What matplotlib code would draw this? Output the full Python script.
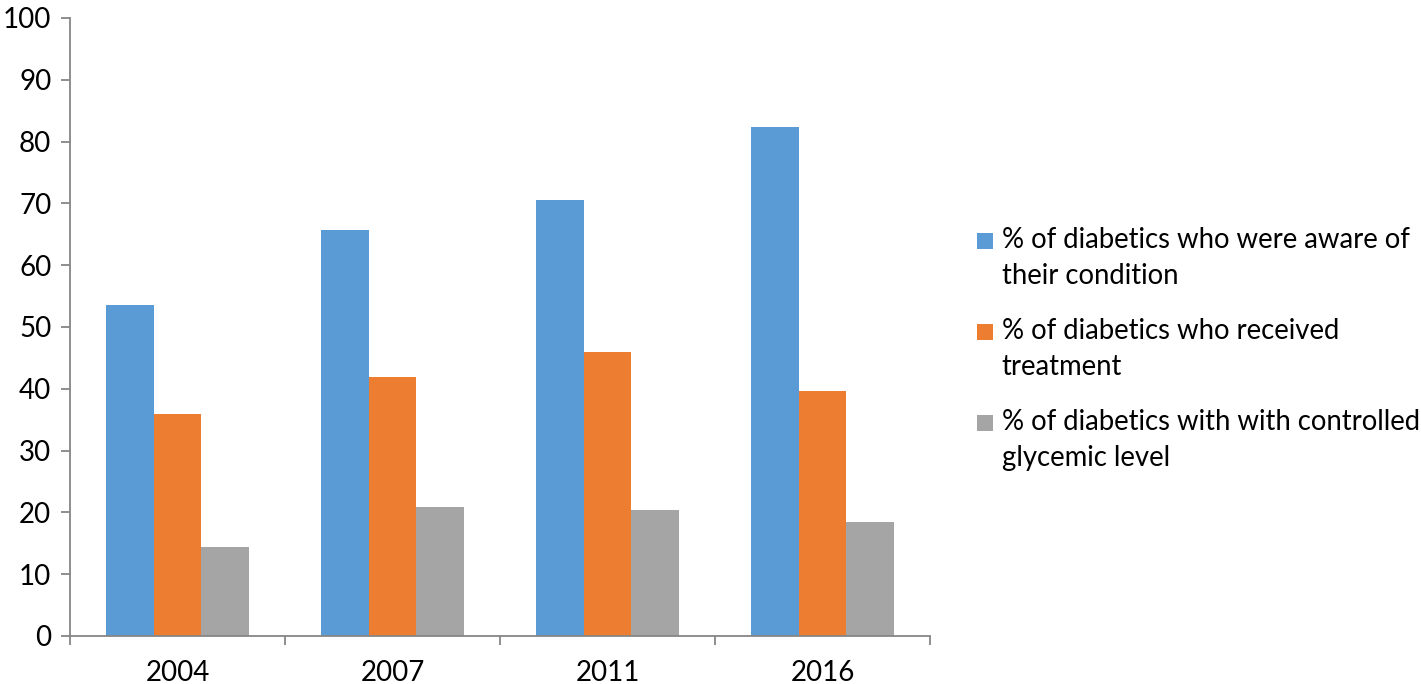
import matplotlib.pyplot as plt
import numpy as np
from matplotlib.legend_handler import HandlerPatch
from matplotlib.patches import Rectangle

plt.rcParams['font.family'] = ['Lato', 'DejaVu Sans']

years = ['2004', '2007', '2011', '2016']
aware = [53.6, 65.7, 70.6, 82.3]
treated = [35.9, 41.9, 46.0, 39.6]
controlled = [14.4, 20.8, 20.4, 18.4]
labels = ['% of diabetics who were aware of\ntheir condition',
          '% of diabetics who received\ntreatment',
          '% of diabetics with with controlled\nglycemic level']
colors = ['#5B9BD5', '#ED7D31', '#A5A5A5']
axis_col = '#868686'

fig = plt.figure(figsize=(14.21, 6.84), dpi=100)
ax = fig.add_axes([0.0493, 0.0702, 0.6052, 0.9035])

x = np.arange(len(years))
w = 0.222
bars = []
for i, (vals, c, lab) in enumerate(zip([aware, treated, controlled], colors, labels)):
    b = ax.bar(x + (i - 1) * w, vals, w, color=c, label=lab)
    bars.append(b)

ax.set_xlim(-0.5, len(years) - 0.5)
ax.set_ylim(0, 100)
ax.set_yticks(range(0, 101, 10))
ax.set_xticks(x)
ax.set_xticklabels(years)
ax.set_xticks(np.arange(-0.5, len(years)), minor=True)

for s in ['top', 'right']:
    ax.spines[s].set_visible(False)
for s in ['left', 'bottom']:
    ax.spines[s].set_color(axis_col)
    ax.spines[s].set_linewidth(1.3)

ax.tick_params(axis='y', length=6.5, width=1.3, color=axis_col, labelsize=20, pad=7)
ax.tick_params(axis='x', which='major', length=0, labelsize=20, pad=17)
ax.tick_params(axis='x', which='minor', length=6.5, width=1.3, color=axis_col)

fs = 19.8


def top_square(legend, orig_handle, xdescent, ydescent, width, height, fontsize):
    s = 16 / 100 * 72
    return Rectangle((-xdescent, -ydescent + height + 0.05 * fontsize - s), s, s)


leg = ax.legend(handles=[b[0] for b in bars], labels=labels,
                loc='center left', bbox_to_anchor=(0.6875, 0.49),
                bbox_transform=fig.transFigure, frameon=False, fontsize=fs,
                handlelength=0.6, handleheight=2.45, handletextpad=0.3,
                labelspacing=1.05, borderpad=0, borderaxespad=0,
                handler_map={Rectangle: HandlerPatch(patch_func=top_square)})
for t in leg.get_texts():
    t.set_linespacing(1.48)

fig.savefig('out.png', dpi=100)
